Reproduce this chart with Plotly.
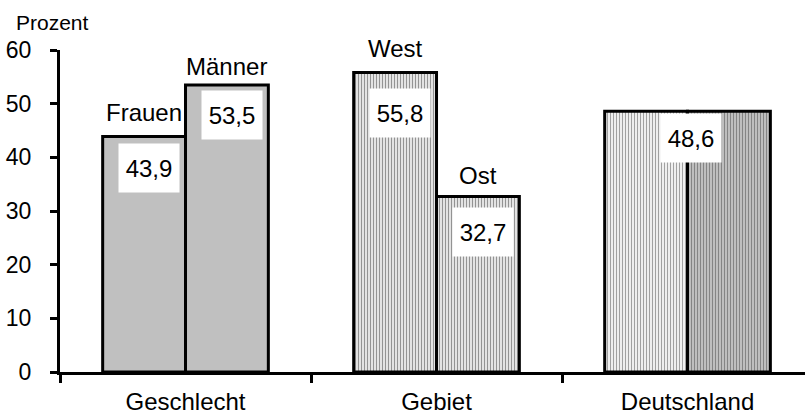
import plotly.graph_objects as go

categories = ["Geschlecht", "Gebiet", "Deutschland"]
first_values = [43.9, 55.8, 48.6]
second_values = [53.5, 32.7, 48.6]
first_names = ["Frauen", "West", ""]
second_names = ["Männer", "Ost", ""]
value_text_first = ["43,9", "55,8", ""]
value_text_second = ["53,5", "32,7", ""]
deutschland_text = "48,6"
y_ticks = [0, 10, 20, 30, 40, 50, 60]

FONT = "Liberation Sans, Arial, sans-serif"

fig = go.Figure()

# first bar of each group
fig.add_trace(go.Bar(
    x=categories, y=first_values,
    marker=dict(
        color=["#c0c0c0", "#e3e3e3", "#ffffff"],
        line=dict(color="black", width=3),
        pattern=dict(shape=["", "|", "|"],
                     fgcolor=["#c0c0c0", "#d4d4d4", "#a8a8a8"],
                     size=[3, 3, 3], solidity=[0.3, 0.35, 0.45],
                     fillmode="overlay"),
    ),
    showlegend=False, hoverinfo="skip",
))
# second bar of each group
fig.add_trace(go.Bar(
    x=categories, y=second_values,
    marker=dict(
        color=["#c0c0c0", "#e3e3e3", "#c4c4c4"],
        line=dict(color="black", width=3),
        pattern=dict(shape=["", "|", "|"],
                     fgcolor=["#c0c0c0", "#d4d4d4", "#9c9c9c"],
                     size=[3, 3, 3], solidity=[0.3, 0.35, 0.4],
                     fillmode="overlay"),
    ),
    showlegend=False, hoverinfo="skip",
))

annotations = []
half = 0.165  # half of a bar width in category units (bargap 0.34, two bars)
name_shift_first = [24, 24]
name_shift_second = [18, 21]
drop_first = [7, 15]
drop_second = [5, 10]

for i in range(2):
    # names above bars
    annotations.append(dict(x=i - half, y=first_values[i], xref="x", yref="y",
                            text=first_names[i], showarrow=False, yanchor="middle",
                            yshift=name_shift_first[i], font=dict(size=24, color="black", family=FONT)))
    annotations.append(dict(x=i + half, y=second_values[i], xref="x", yref="y",
                            text=second_names[i], showarrow=False, yanchor="middle",
                            yshift=name_shift_second[i], font=dict(size=24, color="black", family=FONT)))
    # value boxes
    annotations.append(dict(x=i - half, y=first_values[i], xref="x", yref="y",
                            text=value_text_first[i], showarrow=False, yanchor="top",
                            yshift=-drop_first[i], xshift=5, bgcolor="white",
                            width=58, height=46, borderpad=1,
                            font=dict(size=24, color="black", family=FONT)))
    annotations.append(dict(x=i + half, y=second_values[i], xref="x", yref="y",
                            text=value_text_second[i], showarrow=False, yanchor="top",
                            yshift=-drop_second[i], xshift=5, bgcolor="white",
                            width=58, height=46, borderpad=1,
                            font=dict(size=24, color="black", family=FONT)))

annotations.append(dict(x=2, y=first_values[2], xref="x", yref="y",
                        text=deutschland_text, showarrow=False, yanchor="top",
                        yshift=-2, xshift=3, bgcolor="white",
                        width=58, height=46, borderpad=1,
                        font=dict(size=24, color="black", family=FONT)))

annotations.append(dict(x=0, y=1, xref="paper", yref="paper", text="Prozent",
                        showarrow=False, xanchor="left", yanchor="middle",
                        xshift=-46, yshift=28,
                        font=dict(size=21, color="black", family=FONT)))

fig.update_layout(
    width=805, height=416,
    margin=dict(l=60, r=0, t=50, b=44),
    paper_bgcolor="white", plot_bgcolor="white",
    barmode="group", bargap=0.34, bargroupgap=0,
    annotations=annotations,
    font=dict(family=FONT, color="black"),
    xaxis=dict(type="category", range=[-0.5, 2.468], showline=True, linecolor="black",
               linewidth=3, ticks="outside", tickson="boundaries", ticklen=8, tickwidth=2.5,
               tickcolor="black", tickfont=dict(size=24, family=FONT, color="black"),
               showgrid=False, ticklabelstandoff=6, automargin=False),
    yaxis=dict(range=[0, 60], tickvals=y_ticks, showline=True, linecolor="black", linewidth=3,
               ticks="outside", ticklen=7, tickwidth=2.5, tickcolor="black",
               tickfont=dict(size=23, family=FONT, color="black"),
               showgrid=False, zeroline=False, ticklabelstandoff=14, automargin=False),
)

fig.write_html("out.html", config={"displayModeBar": False},
               post_script="document.body.style.margin='0';")
